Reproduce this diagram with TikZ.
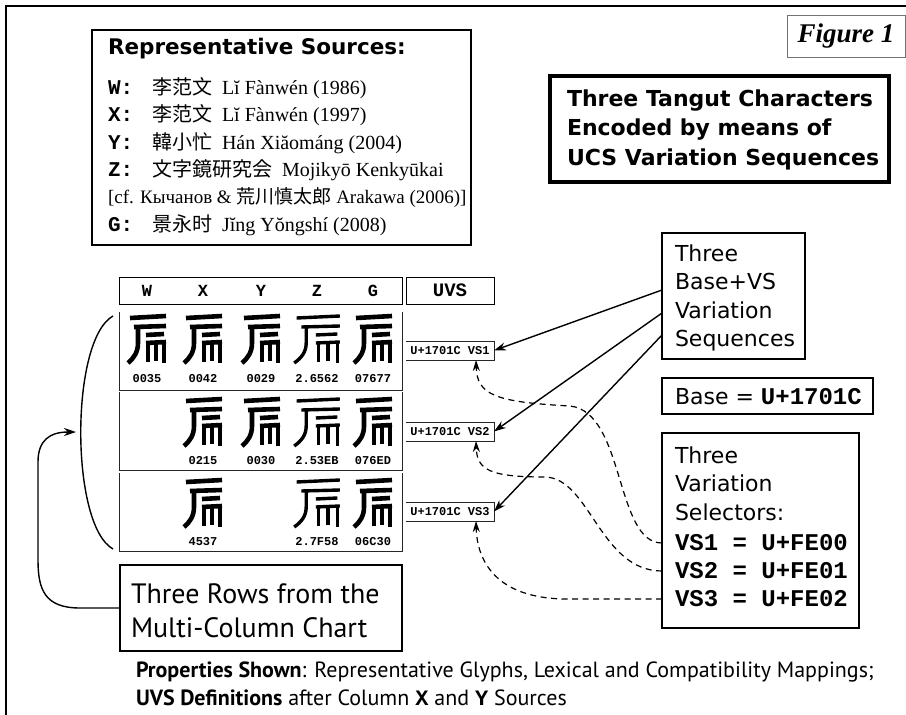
\documentclass[tikz,border=0pt]{standalone}
\usepackage{fontspec}
\setmainfont{Liberation Serif}
\newfontfamily\dvs{DejaVu Sans}
\newfontfamily\pts{PT Sans}
\newfontfamily\mon{Liberation Mono}
\newfontfamily\cjk{Noto Sans CJK SC}
\newfontfamily\cjkj{Noto Sans CJK JP}
\usetikzlibrary{arrows.meta,calc}
\newcommand\fs[1]{\fontsize{#1}{#1}\selectfont}
\newcommand\lab[1]{\makebox[44pt][l]{\mon\bfseries\fs{21}#1}}
\newcommand\hz[1]{{\cjk\fs{20}#1}\hspace{10pt}}
\newcommand\hj[1]{{\cjkj\fs{20}#1}\hspace{10pt}}
\begin{document}
\begin{tikzpicture}[x=1pt,y=-1pt,
  every node/.style={inner sep=0pt,outer sep=0pt},
  txt/.style={anchor=base west},
  frm/.style={draw,line width=1.6pt,anchor=north west},
  thinbox/.style={draw,line width=1pt,anchor=north west},
  rowline/.style={line width=0.9pt,draw=black!85},
  code/.style={font=\mon\bfseries\fs{12}},
  hdrl/.style={font=\mon\bfseries\fs{17}},
  arr/.style={line width=1.4pt,-{Stealth[length=12pt,width=8pt]}},
  dsh/.style={line width=1.2pt,dash pattern=on 6pt off 4.5pt,-{Stealth[length=11pt,width=7pt]}},
  tg/.pic={
    \draw (-17,-21) -- (19,-23);
    \draw (-13,-12) -- (19,-13);
    \draw (-9,-12) -- (-9,4) .. controls (-9,13) and (-13,19) .. (-19,24);
    \draw (-1,-4) -- (17,-5);
    \draw (-1,4) -- (19,3);
    \draw (1,4) -- (1,23);
    \draw (9,4) -- (9,22);
    \draw (17,3) -- (17,24);
  },
  ]
\useasboundingbox (0,0) rectangle (906,715);
\draw[line width=2pt] (6,715) -- (6,6) -- (906,6);

% Representative sources
\node[frm,minimum width=379pt,minimum height=215pt] (rs) at (92,30) {};
\node[txt,font=\dvs\bfseries\fs{21.5}] (rst) at (108,54.5) {Representative Sources:};
\node[txt,font=\fs{20}] (sW) at (108,94) {\lab{W:}\hz{李范文}Lĭ Fànwén (1986)};
\node[txt,font=\fs{20}] (sX) at (108,121.5) {\lab{X:}\hz{李范文}Lĭ Fànwén (1997)};
\node[txt,font=\fs{20}] (sY) at (108,149) {\lab{Y:}\hz{韓小忙}Hán Xiăománg (2004)};
\node[txt,font=\fs{20}] (sZ) at (108,176.5) {\lab{Z:}\hj{文字鏡研究会}Mojikyō Kenkyūkai};
\node[txt,font=\fs{19}] (scf) at (108,203) {[cf. Кычанов \& {\cjkj\fs{19}荒川慎太郎} Arakawa (2006)]};
\node[txt,font=\fs{20}] (sG) at (108,231) {\lab{G:}\hz{景永时}Jĭng Yŏngshí (2008)};

% Figure 1
\node[draw=black!55,line width=1pt,anchor=north west,minimum width=118pt,minimum height=42pt,
      font=\bfseries\itshape\fs{27}] (fig) at (787,15) {Figure 1};

% Title
\node[draw,line width=3.5pt,anchor=north west,minimum width=339pt,minimum height=106pt] (ttl) at (550,76) {};
\node[txt,font=\dvs\bfseries\fs{22}] (t1) at (567,106) {Three Tangut Characters};
\node[txt,font=\dvs\bfseries\fs{22}] (t2) at (567,135.5) {Encoded by means of};
\node[txt,font=\dvs\bfseries\fs{22}] (t3) at (567,165) {UCS Variation Sequences};

% Chart header
\node[thinbox,minimum width=283pt,minimum height=27pt] (hdr) at (119,277) {};
\node[hdrl] (hW) at (147,290.5) {W};
\node[hdrl] (hX) at (203,290.5) {X};
\node[hdrl] (hY) at (261,290.5) {Y};
\node[hdrl] (hZ) at (317,290.5) {Z};
\node[hdrl] (hG) at (373,290.5) {G};
\node[thinbox,minimum width=88pt,minimum height=27pt,font=\mon\bfseries\fs{19}] (uvsh) at (406,277) {UVS};

% Rows
\node[anchor=north west,minimum width=283pt,minimum height=78pt] (r1) at (119,312) {};
\node[anchor=north west,minimum width=283pt,minimum height=78pt] (r2) at (119,392) {};
\node[anchor=north west,minimum width=283pt,minimum height=78pt] (r3) at (119,473) {};
\foreach \r in {r1,r2,r3}
  \draw[rowline] (\r.north west) -- (\r.south west) -- (\r.south east) -- (\r.north east);

% glyphs
\begin{scope}[line width=4.6pt]
\pic at (147,339) {tg};
\pic at (203,339) {tg};
\pic at (261,339) {tg};
\pic[line width=3.4pt,xscale=1.2] at (317,339) {tg};
\pic at (373,339) {tg};
\pic at (203,422) {tg};
\pic at (261,422) {tg};
\pic[line width=3.4pt,xscale=1.2] at (317,422) {tg};
\pic at (373,422) {tg};
\pic at (203,503) {tg};
\pic[line width=3.4pt,xscale=1.2] at (317,503) {tg};
\pic at (373,503) {tg};
\end{scope}

% codes
\node[code] (c11) at (147,379) {0035};
\node[code] (c12) at (203,379) {0042};
\node[code] (c13) at (261,379) {0029};
\node[code] (c14) at (317,379) {2.6562};
\node[code] (c15) at (373,379) {07677};
\node[code] (c22) at (203,461) {0215};
\node[code] (c23) at (261,461) {0030};
\node[code] (c24) at (317,461) {2.53EB};
\node[code] (c25) at (373,461) {076ED};
\node[code] (c32) at (203,542) {4537};
\node[code] (c34) at (317,542) {2.7F58};
\node[code] (c35) at (373,542) {06C30};

% UVS labels
\node[anchor=north west,minimum width=88pt,minimum height=19pt,font=\mon\bfseries\fs{12}] (u1) at (406,341) {U+1701C VS1};
\node[anchor=north west,minimum width=88pt,minimum height=19pt,font=\mon\bfseries\fs{12}] (u2) at (406,422) {U+1701C VS2};
\node[anchor=north west,minimum width=88pt,minimum height=19pt,font=\mon\bfseries\fs{12}] (u3) at (406,502) {U+1701C VS3};
\foreach \u in {u1,u2,u3}
  \draw[rowline] (\u.north west) -- (\u.north east) -- (\u.south east) -- (\u.south west);

% Base+VS box
\node[frm,line width=1.4pt,minimum width=143pt,minimum height=126pt] (bvs) at (662,233) {};
\node[txt,font=\dvs\fs{22}] (b1) at (675,261) {Three};
\node[txt,font=\dvs\fs{22}] (b2) at (675,289.5) {Base+VS};
\node[txt,font=\dvs\fs{22}] (b3) at (675,318) {Variation};
\node[txt,font=\dvs\fs{22}] (b4) at (675,346.5) {Sequences};

% Base box
\node[frm,line width=1.4pt,minimum width=211pt,minimum height=36pt] (base) at (662,378) {};
\node[txt,font=\dvs\fs{22}] (bt) at (675,404) {Base = {\mon\bfseries\fs{24}U+1701C}};

% VS box
\node[frm,line width=1.4pt,minimum width=197pt,minimum height=195pt] (vsb) at (662,433) {};
\node[txt,font=\dvs\fs{22}] (v1) at (675,463) {Three};
\node[txt,font=\dvs\fs{22}] (v2) at (675,491.5) {Variation};
\node[txt,font=\dvs\fs{22}] (v3) at (675,520) {Selectors:};
\node[txt,font=\mon\bfseries\fs{24}] (v4) at (675,550) {VS1 = U+FE00};
\node[txt,font=\mon\bfseries\fs{24}] (v5) at (675,578) {VS2 = U+FE01};
\node[txt,font=\mon\bfseries\fs{24}] (v6) at (675,606) {VS3 = U+FE02};

% Three rows box
\node[frm,line width=1.4pt,minimum width=282pt,minimum height=86pt] (trb) at (120,565) {};
\node[txt,font=\pts\fs{28}] (tr1) at (131,603) {Three Rows from the};
\node[txt,font=\pts\fs{28}] (tr2) at (131,637) {Multi-Column Chart};

% caption
\node[txt,font=\pts\fs{22}] (cap1) at (136,677) {\textbf{Properties Shown}: Representative Glyphs, Lexical and Compatibility Mappings;};
\node[txt,font=\pts\fs{22}] (cap2) at (136,705) {\textbf{UVS Definitions} after Column {\mon\bfseries X} and {\mon\bfseries Y} Sources};

% solid arrows
\draw[arr] ($(bvs.north west)+(0,57)$) -- (u1.east);
\draw[arr] ($(bvs.north west)+(0,80)$) -- (u2.east);
\draw[arr] ($(bvs.north west)+(0,102)$) -- (u3.east);

% dashed arrows
\draw[dsh] ($(vsb.north west)+(0,110)$) .. controls (615,543) and (625,412) .. (570,406)
   .. controls (495,402) and (477,395) .. ($(u1.south east)+(-18,0)$);
\draw[dsh] ($(vsb.north west)+(0,138)$) .. controls (600,571) and (590,478) .. (545,477)
   .. controls (490,477) and (477,470) .. ($(u2.south east)+(-18,0)$);
\draw[dsh] ($(vsb.north west)+(0,166)$) -- (565,599) .. controls (495,598) and (477,560) .. ($(u3.south east)+(-18,0)$);

% bracket and loop arrow
\draw[line width=1.4pt] (113,316) .. controls (70,340) and (70,525) .. (113,549);
\draw[arr] (trb.west) -- (80,608) .. controls (45,608) and (38,590) .. (38,560) -- (38,462)
   .. controls (38,440) and (50,432) .. (76,432);
\end{tikzpicture}
\end{document}
